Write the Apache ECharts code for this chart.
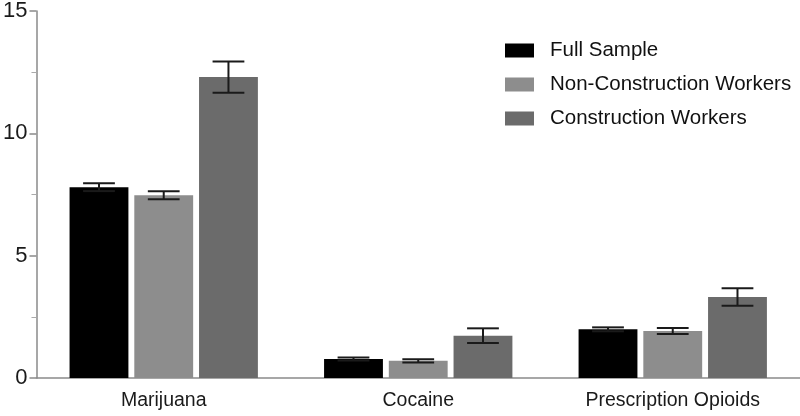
<!DOCTYPE html>
<html>
<head>
<meta charset="utf-8">
<script src="https://cdn.jsdelivr.net/npm/echarts@6/dist/echarts.min.js"></script>
<style>
  html, body { margin: 0; padding: 0; background: #fff; }
  #chart { width: 800px; height: 416px; }
</style>
</head>
<body>
<div id="chart"></div>
<script>
// data
const categories = ['Marijuana', 'Cocaine', 'Prescription Opioids']
const seriesNames = ['Full Sample', 'Non-Construction Workers', 'Construction Workers']
const fullSample = [7.8, 0.78, 1.99]
const nonConstruction = [7.47, 0.7, 1.92]
const construction = [12.3, 1.73, 3.31]
const fullSampleErr = [0.16, 0.06, 0.08]
const nonConstructionErr = [0.16, 0.07, 0.12]
const constructionErr = [0.64, 0.3, 0.36]
const yTicks = [0, 5, 10, 15]

const colors = ['#000000', '#8d8d8d', '#6b6b6b']
const catGap = 0.26
const barGapRatio = 0.1

const values = [fullSample, nonConstruction, construction]
const errors = [fullSampleErr, nonConstructionErr, constructionErr]

let chart = echarts.init(document.getElementById('chart'))

function errorSeries(idx) {
	return {
		type: 'custom',
		name: seriesNames[idx] + ' err',
		z: 5,
		silent: true,
		data: categories.map((c, i) => [i, values[idx][i], errors[idx][i]]),
		renderItem: (params, api) => {
			let band = api.size([1, 0])[0]
			let groupW = band * (1 - catGap)
			let bw = groupW / (3 + 2 * barGapRatio)
			let center = api.coord([api.value(0), 0])[0]
			let x = center - groupW / 2 + bw / 2 + idx * bw * (1 + barGapRatio)
			let v = api.value(1), e = api.value(2)
			let yHi = api.coord([api.value(0), v + e])[1]
			let yLo = api.coord([api.value(0), v - e])[1]
			let half = bw * 0.27
			let style = { stroke: '#1a1a1a', lineWidth: 2 }
			return {
				type: 'group',
				children: [
					{ type: 'line', shape: { x1: x, y1: yHi, x2: x, y2: yLo }, style: style },
					{ type: 'line', shape: { x1: x - half, y1: yHi, x2: x + half, y2: yHi }, style: style },
					{ type: 'line', shape: { x1: x - half, y1: yLo, x2: x + half, y2: yLo }, style: style }
				]
			}
		}
	}
}

chart.setOption({
	animation: false,
	textStyle: { fontFamily: 'Liberation Sans, Arial, sans-serif' },
	grid: { left: 36, right: 0, top: 11, bottom: 38 },
	legend: {
		orient: 'vertical',
		left: 500,
		top: 35,
		data: seriesNames,
		icon: 'rect',
		itemWidth: 29,
		itemHeight: 14,
		itemGap: 13,
		textStyle: { fontSize: 20.5, color: '#111', padding: [0, 0, 0, 11] }
	},
	xAxis: {
		type: 'category',
		data: categories,
		axisLine: { lineStyle: { color: '#8a8a8a', width: 1.5 } },
		axisTick: { show: false },
		axisLabel: { fontSize: 19.5, color: '#1a1a1a', margin: 13 }
	},
	yAxis: {
		type: 'value',
		min: yTicks[0],
		max: yTicks[yTicks.length - 1],
		interval: 5,
		splitLine: { show: false },
		axisLine: { show: true, lineStyle: { color: '#8a8a8a', width: 1.5 } },
		axisTick: { show: true, length: 7, lineStyle: { color: '#8a8a8a', width: 1.5 } },
		minorTick: { show: true, splitNumber: 2, length: 5, lineStyle: { color: '#aaaaaa' } },
		axisLabel: { fontSize: 22, color: '#1a1a1a', margin: 9 }
	},
	series: [
		...seriesNames.map((n, idx) => ({
			type: 'bar',
			name: n,
			data: values[idx],
			itemStyle: { color: colors[idx] },
			barGap: (barGapRatio * 100) + '%',
			barCategoryGap: (catGap * 100) + '%'
		})),
		errorSeries(0), errorSeries(1), errorSeries(2)
	]
})
</script>
</body>
</html>
